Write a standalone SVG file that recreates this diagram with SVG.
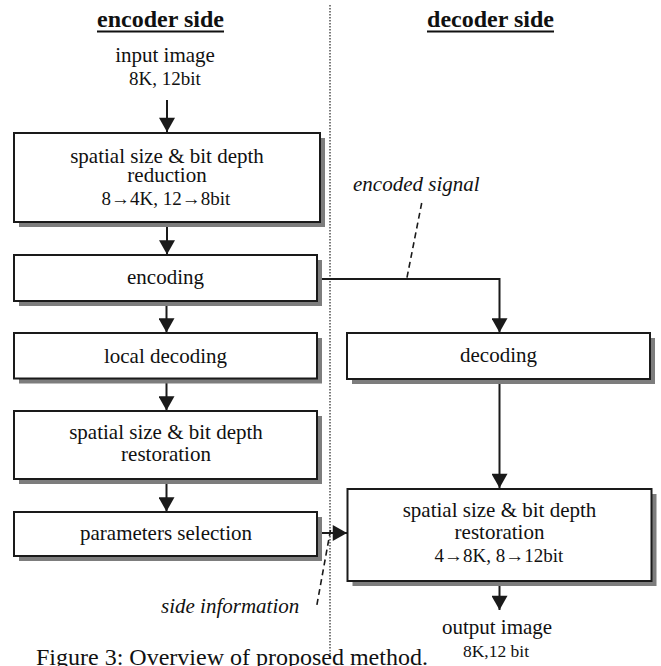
<svg xmlns="http://www.w3.org/2000/svg" width="661" height="666" viewBox="0 0 661 666">
<style>
  text { font-family: "Liberation Serif", "Times New Roman", serif; fill: #111; }
  .m { font-size: 21px; text-anchor: middle; }
  .s { font-size: 19px; text-anchor: middle; }
  .xs { font-size: 17.5px; text-anchor: middle; }
  .title { font-size: 24px; font-weight: bold; text-anchor: middle; }
  .lab { font-size: 21px; font-style: italic; }
  .cap { font-size: 24px; }
  .box { fill: #fff; stroke: #1a1a1a; stroke-width: 2; }
  .shadow { fill: #7d7d7d; }
  .line { fill: none; stroke: #1a1a1a; stroke-width: 2; }
  .dash { fill: none; stroke: #1a1a1a; stroke-width: 1.6; stroke-dasharray: 6 4; }
  .dot { fill: none; stroke: #444; stroke-width: 1.4; stroke-dasharray: 1.4 1.6; }
  .ul { stroke: #111; stroke-width: 2.2; }
</style>
<defs>
  <marker id="ah" markerWidth="18" markerHeight="16" refX="16" refY="9" orient="auto" markerUnits="userSpaceOnUse" viewBox="0 0 16 18">
    <path d="M0,0 L16,9 L0,18 Z" fill="#1a1a1a"/>
  </marker>
</defs>

<rect width="661" height="666" fill="#fff"/>

<g id="divider">
  <line class="dot" x1="330" y1="5" x2="330" y2="657"/>
</g>

<g id="titles">
  <text class="title" x="160.5" y="27">encoder side</text>
  <line class="ul" x1="97" y1="31.5" x2="224" y2="31.5"/>
  <text class="title" x="490.5" y="27">decoder side</text>
  <line class="ul" x1="427" y1="31.5" x2="554" y2="31.5"/>
</g>

<g id="connectors">
  <line class="line" x1="167" y1="100" x2="167" y2="132" marker-end="url(#ah)"/>
  <line class="line" x1="167" y1="222" x2="167" y2="254.5" marker-end="url(#ah)"/>
  <line class="line" x1="166.5" y1="301" x2="166.5" y2="332.5" marker-end="url(#ah)"/>
  <line class="line" x1="166.5" y1="378" x2="166.5" y2="410.5" marker-end="url(#ah)"/>
  <line class="line" x1="166.5" y1="479" x2="166.5" y2="511.5" marker-end="url(#ah)"/>
  <line class="line" x1="317" y1="533" x2="347" y2="533" marker-end="url(#ah)"/>
  <polyline class="line" points="317,279 499.5,279 499.5,332.5" marker-end="url(#ah)"/>
  <line class="line" x1="499.5" y1="379" x2="499.5" y2="488" marker-end="url(#ah)"/>
  <line class="line" x1="499.5" y1="581" x2="499.5" y2="610" marker-end="url(#ah)"/>
  <line class="dash" x1="421.7" y1="203" x2="406.7" y2="279"/>
  <line class="dash" x1="330.5" y1="530" x2="316.5" y2="607"/>
</g>

<g id="input-image">
  <text class="m" x="165" y="62">input image</text>
  <text class="s" x="165" y="85">8K, 12bit</text>
</g>

<g id="reduction">
  <rect class="shadow" x="19" y="138" width="306" height="89"/>
  <rect class="box" x="14" y="133" width="306" height="89"/>
  <text class="m" x="167" y="162.5">spatial size &amp; bit depth</text>
  <text class="m" x="167" y="182">reduction</text>
  <text class="s" x="166" y="204.7">8→4K, 12→8bit</text>
</g>

<g id="encoding">
  <rect class="shadow" x="19" y="260" width="303" height="46"/>
  <rect class="box" x="14" y="255" width="303" height="46"/>
  <text class="m" x="165.5" y="284.3">encoding</text>
</g>

<g id="local-decoding">
  <rect class="shadow" x="19" y="338" width="303" height="45.5"/>
  <rect class="box" x="14" y="333" width="303" height="45.5"/>
  <text class="m" x="165.5" y="362.7">local decoding</text>
</g>

<g id="restoration-enc">
  <rect class="shadow" x="19" y="416" width="303" height="68"/>
  <rect class="box" x="14" y="411" width="303" height="68"/>
  <text class="m" x="166" y="438.7">spatial size &amp; bit depth</text>
  <text class="m" x="166" y="460.5">restoration</text>
</g>

<g id="parameters-selection">
  <rect class="shadow" x="19" y="517" width="303" height="44"/>
  <rect class="box" x="14" y="512" width="303" height="44"/>
  <text class="m" x="166" y="540">parameters selection</text>
</g>

<g id="decoding">
  <rect class="shadow" x="352" y="338" width="303" height="46"/>
  <rect class="box" x="347" y="333" width="303" height="46"/>
  <text class="m" x="498.5" y="361.7">decoding</text>
</g>

<g id="restoration-dec">
  <rect class="shadow" x="352.5" y="494" width="304" height="92"/>
  <rect class="box" x="347.5" y="489" width="304" height="92"/>
  <text class="m" x="499.5" y="517.3">spatial size &amp; bit depth</text>
  <text class="m" x="499.5" y="538.5">restoration</text>
  <text class="s" x="499" y="561.7">4→8K, 8→12bit</text>
</g>

<g id="output-image">
  <text class="m" x="497" y="634.3">output image</text>
  <text class="xs" x="496" y="657.3">8K,12 bit</text>
</g>

<g id="labels">
  <text class="lab" x="353" y="190.7">encoded signal</text>
  <text class="lab" x="161" y="613.3">side information</text>
</g>

<g id="caption">
  <text class="cap" x="36" y="664.5">Figure 3: Overview of proposed method.</text>
</g>
</svg>
